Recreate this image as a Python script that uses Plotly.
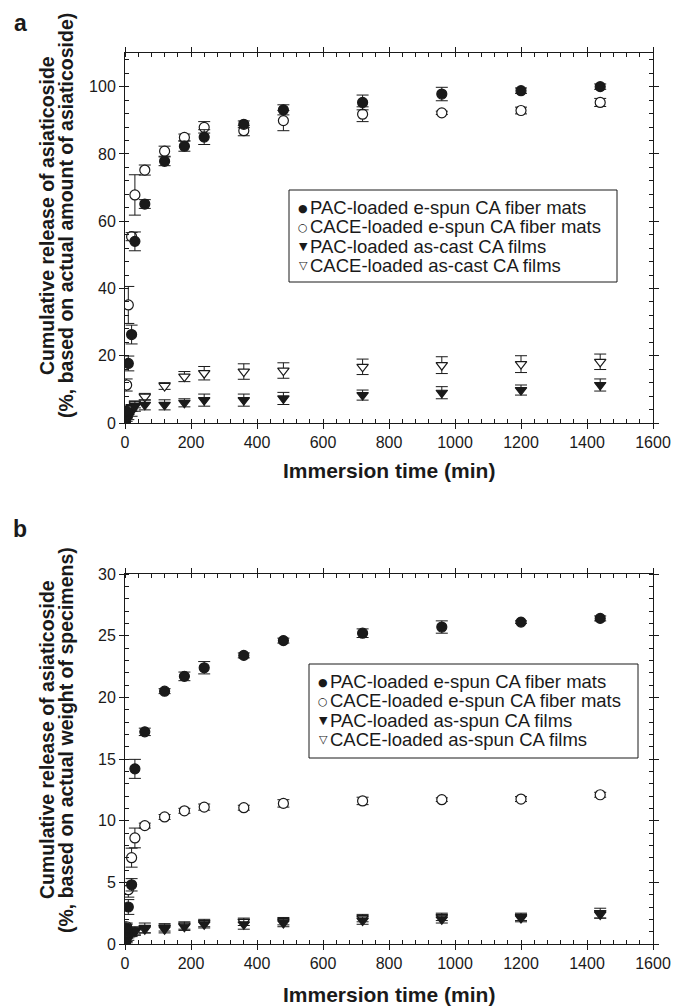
"""Cumulative release of asiaticoside from CA fiber mats and films (panels a and b)."""

import plotly.graph_objects as go

# immersion times (min)
time_min = [0, 5, 10, 20, 30, 60, 120, 180, 240, 360, 480, 720, 960, 1200, 1440]

# panel a: % based on actual amount of asiaticoside
a_pac_fiber = [0, 3.5, 17.7, 26.3, 54.0, 65.1, 77.8, 82.3, 85.0, 88.8, 93.1, 95.3, 97.8, 98.8, 100.0]
a_pac_fiber_err = [0, 0.5, 2.2, 2.8, 2.8, 1.3, 1.3, 1.5, 2.2, 1.0, 1.5, 2.2, 2.0, 0.8, 0.8]
a_cace_fiber = [0, 11.3, 35.1, 55.4, 67.8, 75.2, 80.8, 84.9, 87.9, 86.9, 89.9, 91.8, 92.2, 92.9, 95.3]
a_cace_fiber_err = [0, 1.8, 5.5, 1.2, 6.0, 1.5, 1.5, 1.0, 1.7, 1.5, 3.0, 2.2, 0.5, 1.0, 1.2]
a_pac_film = [0, 1.0, 2.0, 3.5, 5.0, 5.4, 5.4, 6.0, 6.8, 6.8, 7.3, 8.3, 9.0, 9.8, 11.3]
a_pac_film_err = [0, 0.5, 1.0, 1.5, 1.5, 1.5, 1.5, 1.2, 1.8, 1.8, 1.8, 1.5, 1.8, 1.5, 1.8]
a_cace_film = [0, 2.0, 3.5, 4.5, 5.5, 7.8, 11.0, 13.8, 14.8, 15.3, 15.6, 16.7, 17.2, 17.5, 18.2]
a_cace_film_err = [0, 0.5, 1.0, 1.0, 1.0, 1.0, 1.0, 1.5, 2.0, 2.3, 2.3, 2.3, 2.5, 2.5, 2.3]

# panel b: % based on actual weight of specimens
b_pac_fiber = [0.2, 1.3, 3.0, 4.8, 14.2, 17.2, 20.5, 21.7, 22.4, 23.4, 24.6, 25.2, 25.7, 26.1, 26.4]
b_pac_fiber_err = [0, 0.3, 0.6, 0.5, 0.77, 0.3, 0.2, 0.35, 0.5, 0.2, 0.2, 0.35, 0.5, 0.1, 0.2]
b_cace_fiber = [0.2, 1.4, 4.4, 7.0, 8.6, 9.6, 10.3, 10.8, 11.1, 11.05, 11.4, 11.6, 11.7, 11.75, 12.1]
b_cace_fiber_err = [0, 0.3, 0.6, 0.77, 0.8, 0.2, 0.2, 0.2, 0.25, 0.2, 0.3, 0.3, 0.15, 0.2, 0.2]
b_pac_film = [0, 0.4, 0.8, 1.0, 1.1, 1.3, 1.2, 1.4, 1.6, 1.6, 1.7, 1.9, 2.0, 2.1, 2.5]
b_pac_film_err = [0, 0.2, 0.3, 0.3, 0.3, 0.4, 0.3, 0.3, 0.3, 0.4, 0.3, 0.3, 0.3, 0.3, 0.4]
b_cace_film = [0, 0.3, 0.6, 0.9, 1.0, 1.2, 1.35, 1.5, 1.7, 1.8, 1.85, 2.1, 2.2, 2.2, 2.4]
b_cace_film_err = [0, 0.2, 0.3, 0.3, 0.3, 0.3, 0.3, 0.3, 0.3, 0.3, 0.3, 0.3, 0.3, 0.3, 0.3]

names_a = ["PAC-loaded e-spun CA fiber mats", "CACE-loaded e-spun CA fiber mats",
           "PAC-loaded as-cast CA films", "CACE-loaded as-cast CA films"]
names_b = ["PAC-loaded e-spun CA fiber mats", "CACE-loaded e-spun CA fiber mats",
           "PAC-loaded as-spun CA films", "CACE-loaded as-spun CA films"]

FONT = "Liberation Sans, Arial, Helvetica, sans-serif"
INK = "#1a1a1a"

styles = [
    dict(symbol="circle", color=INK, glyph="\u25cf"),
    dict(symbol="circle", color="white", glyph="\u25cb"),
    dict(symbol="triangle-down", color=INK, glyph="\u25bc"),
    dict(symbol="triangle-down", color="white", glyph="\u25bd"),
]

series_a = [(a_pac_fiber, a_pac_fiber_err), (a_cace_fiber, a_cace_fiber_err),
            (a_pac_film, a_pac_film_err), (a_cace_film, a_cace_film_err)]
series_b = [(b_pac_fiber, b_pac_fiber_err), (b_cace_fiber, b_cace_fiber_err),
            (b_pac_film, b_pac_film_err), (b_cace_film, b_cace_film_err)]

fig = go.Figure()

# films first, fibers last so the circles sit on top
for order in [3, 2, 1, 0]:
    for names, series, xa, ya in [(names_a, series_a, "x", "y"), (names_b, series_b, "x2", "y2")]:
        vals, errs = series[order]
        st = styles[order]
        fig.add_trace(go.Scatter(
            x=time_min, y=vals, mode="markers", name=names[order],
            xaxis=xa, yaxis=ya, showlegend=False,
            marker=dict(symbol=st["symbol"], size=10, color=st["color"],
                        line=dict(color=INK, width=1.2)),
            error_y=dict(type="data", array=errs, color=INK, thickness=1, width=6),
        ))


def axis(rng, dtick, minor_dtick, domain, anchor):
    return dict(
        range=rng, dtick=dtick, tick0=0, domain=domain, anchor=anchor,
        showline=True, linecolor=INK, linewidth=1, mirror="ticks",
        ticks="outside", ticklen=5, tickcolor=INK, tickwidth=1,
        minor=dict(dtick=minor_dtick, ticks="inside", ticklen=4, tickcolor=INK, tickwidth=1),
        showgrid=False, zeroline=False,
        tickfont=dict(family=FONT, size=16, color=INK),
    )


def inner(rng, dtick, over, anchor):
    # second copy of the axis, only for the inward half of the major ticks
    return dict(
        range=rng, dtick=dtick, tick0=0, overlaying=over, anchor=anchor,
        showline=False, mirror="ticks", ticks="inside", ticklen=6,
        tickcolor=INK, tickwidth=1, showgrid=False, zeroline=False,
        showticklabels=False,
    )


# plot areas in page pixels: x 125..653, panel a y 53..423, panel b y 574..944
def px_x(p):
    return (p - 125) / 528


def px_y(p):
    return (944 - p) / 891


dom_a = [px_y(423), 1.0]
dom_b = [0.0, px_y(574)]

# page body adds an 8px margin, so the figure is 8px smaller on each side
fig.update_layout(
    width=678, height=998,
    margin=dict(l=117, r=33, t=45, b=62),
    paper_bgcolor="white", plot_bgcolor="white",
    font=dict(family=FONT, color=INK),
    xaxis=axis([0, 1600], 200, 40, [0, 1], "y"),
    yaxis=axis([0, 110], 20, 4, dom_a, "x"),
    xaxis2=axis([0, 1600], 200, 40, [0, 1], "y2"),
    yaxis2=axis([0, 30], 5, 1, dom_b, "x2"),
    xaxis3=inner([0, 1600], 200, "x", "y"),
    yaxis3=inner([0, 110], 20, "y", "x"),
    xaxis4=inner([0, 1600], 200, "x2", "y2"),
    yaxis4=inner([0, 30], 5, "y2", "x2"),
    showlegend=False,
)

# boxed legends, one line per series (tight line spacing like the original)
LEG_FONT = dict(family=FONT, size=18.5, color=INK)
for names, box in [(names_a, (289, 617, 190, 282)), (names_b, (309, 638, 664, 758))]:
    left, right, top, bottom = box
    fig.add_shape(type="rect", xref="paper", yref="paper",
                  x0=px_x(left), x1=px_x(right), y0=px_y(bottom), y1=px_y(top),
                  line=dict(color=INK, width=1), fillcolor="white", layer="above")
    for i, name in enumerate(names):
        row = top + 17.5 + 19.3 * i
        fig.add_annotation(text=styles[i]["glyph"], x=px_x(left + 14), y=px_y(row + 0.5),
                           xanchor="center", yanchor="middle",
                           font=dict(family="DejaVu Sans", size=11, color=INK))
        fig.add_annotation(text=name, x=px_x(left + 19), y=px_y(row),
                           xanchor="left", yanchor="middle", font=LEG_FONT)

ytitle_font = dict(family=FONT, size=19.5, color=INK)
xtitle_font = dict(family=FONT, size=21, color=INK)
notes = [
    dict(text="<b>Cumulative release of asiaticoside</b>", x=px_x(47), y=px_y(216), textangle=-90, font=ytitle_font),
    dict(text="<b>(%, based on actual amount of asiaticoside)</b>", x=px_x(66), y=px_y(216), textangle=-90, font=ytitle_font),
    dict(text="<b>Cumulative release of asiaticoside</b>", x=px_x(47), y=px_y(740), textangle=-90, font=ytitle_font),
    dict(text="<b>(%, based on actual weight of specimens)</b>", x=px_x(66), y=px_y(740), textangle=-90, font=ytitle_font),
    dict(text="<b>Immersion time (min)</b>", x=0.5, y=px_y(470), font=xtitle_font),
    dict(text="<b>Immersion time (min)</b>", x=0.5, y=px_y(994), font=xtitle_font),
    dict(text="<b>a</b>", x=px_x(20), y=px_y(8), yanchor="top", font=dict(family=FONT, size=23, color=INK)),
    dict(text="<b>b</b>", x=px_x(20), y=px_y(514), yanchor="top", font=dict(family=FONT, size=23, color=INK)),
]
for n in notes:
    n.setdefault("yanchor", "middle")
    fig.add_annotation(xref="paper", yref="paper", xanchor="center", showarrow=False, **n)

fig.update_annotations(xref="paper", yref="paper", showarrow=False)

fig.write_html("out.html")
